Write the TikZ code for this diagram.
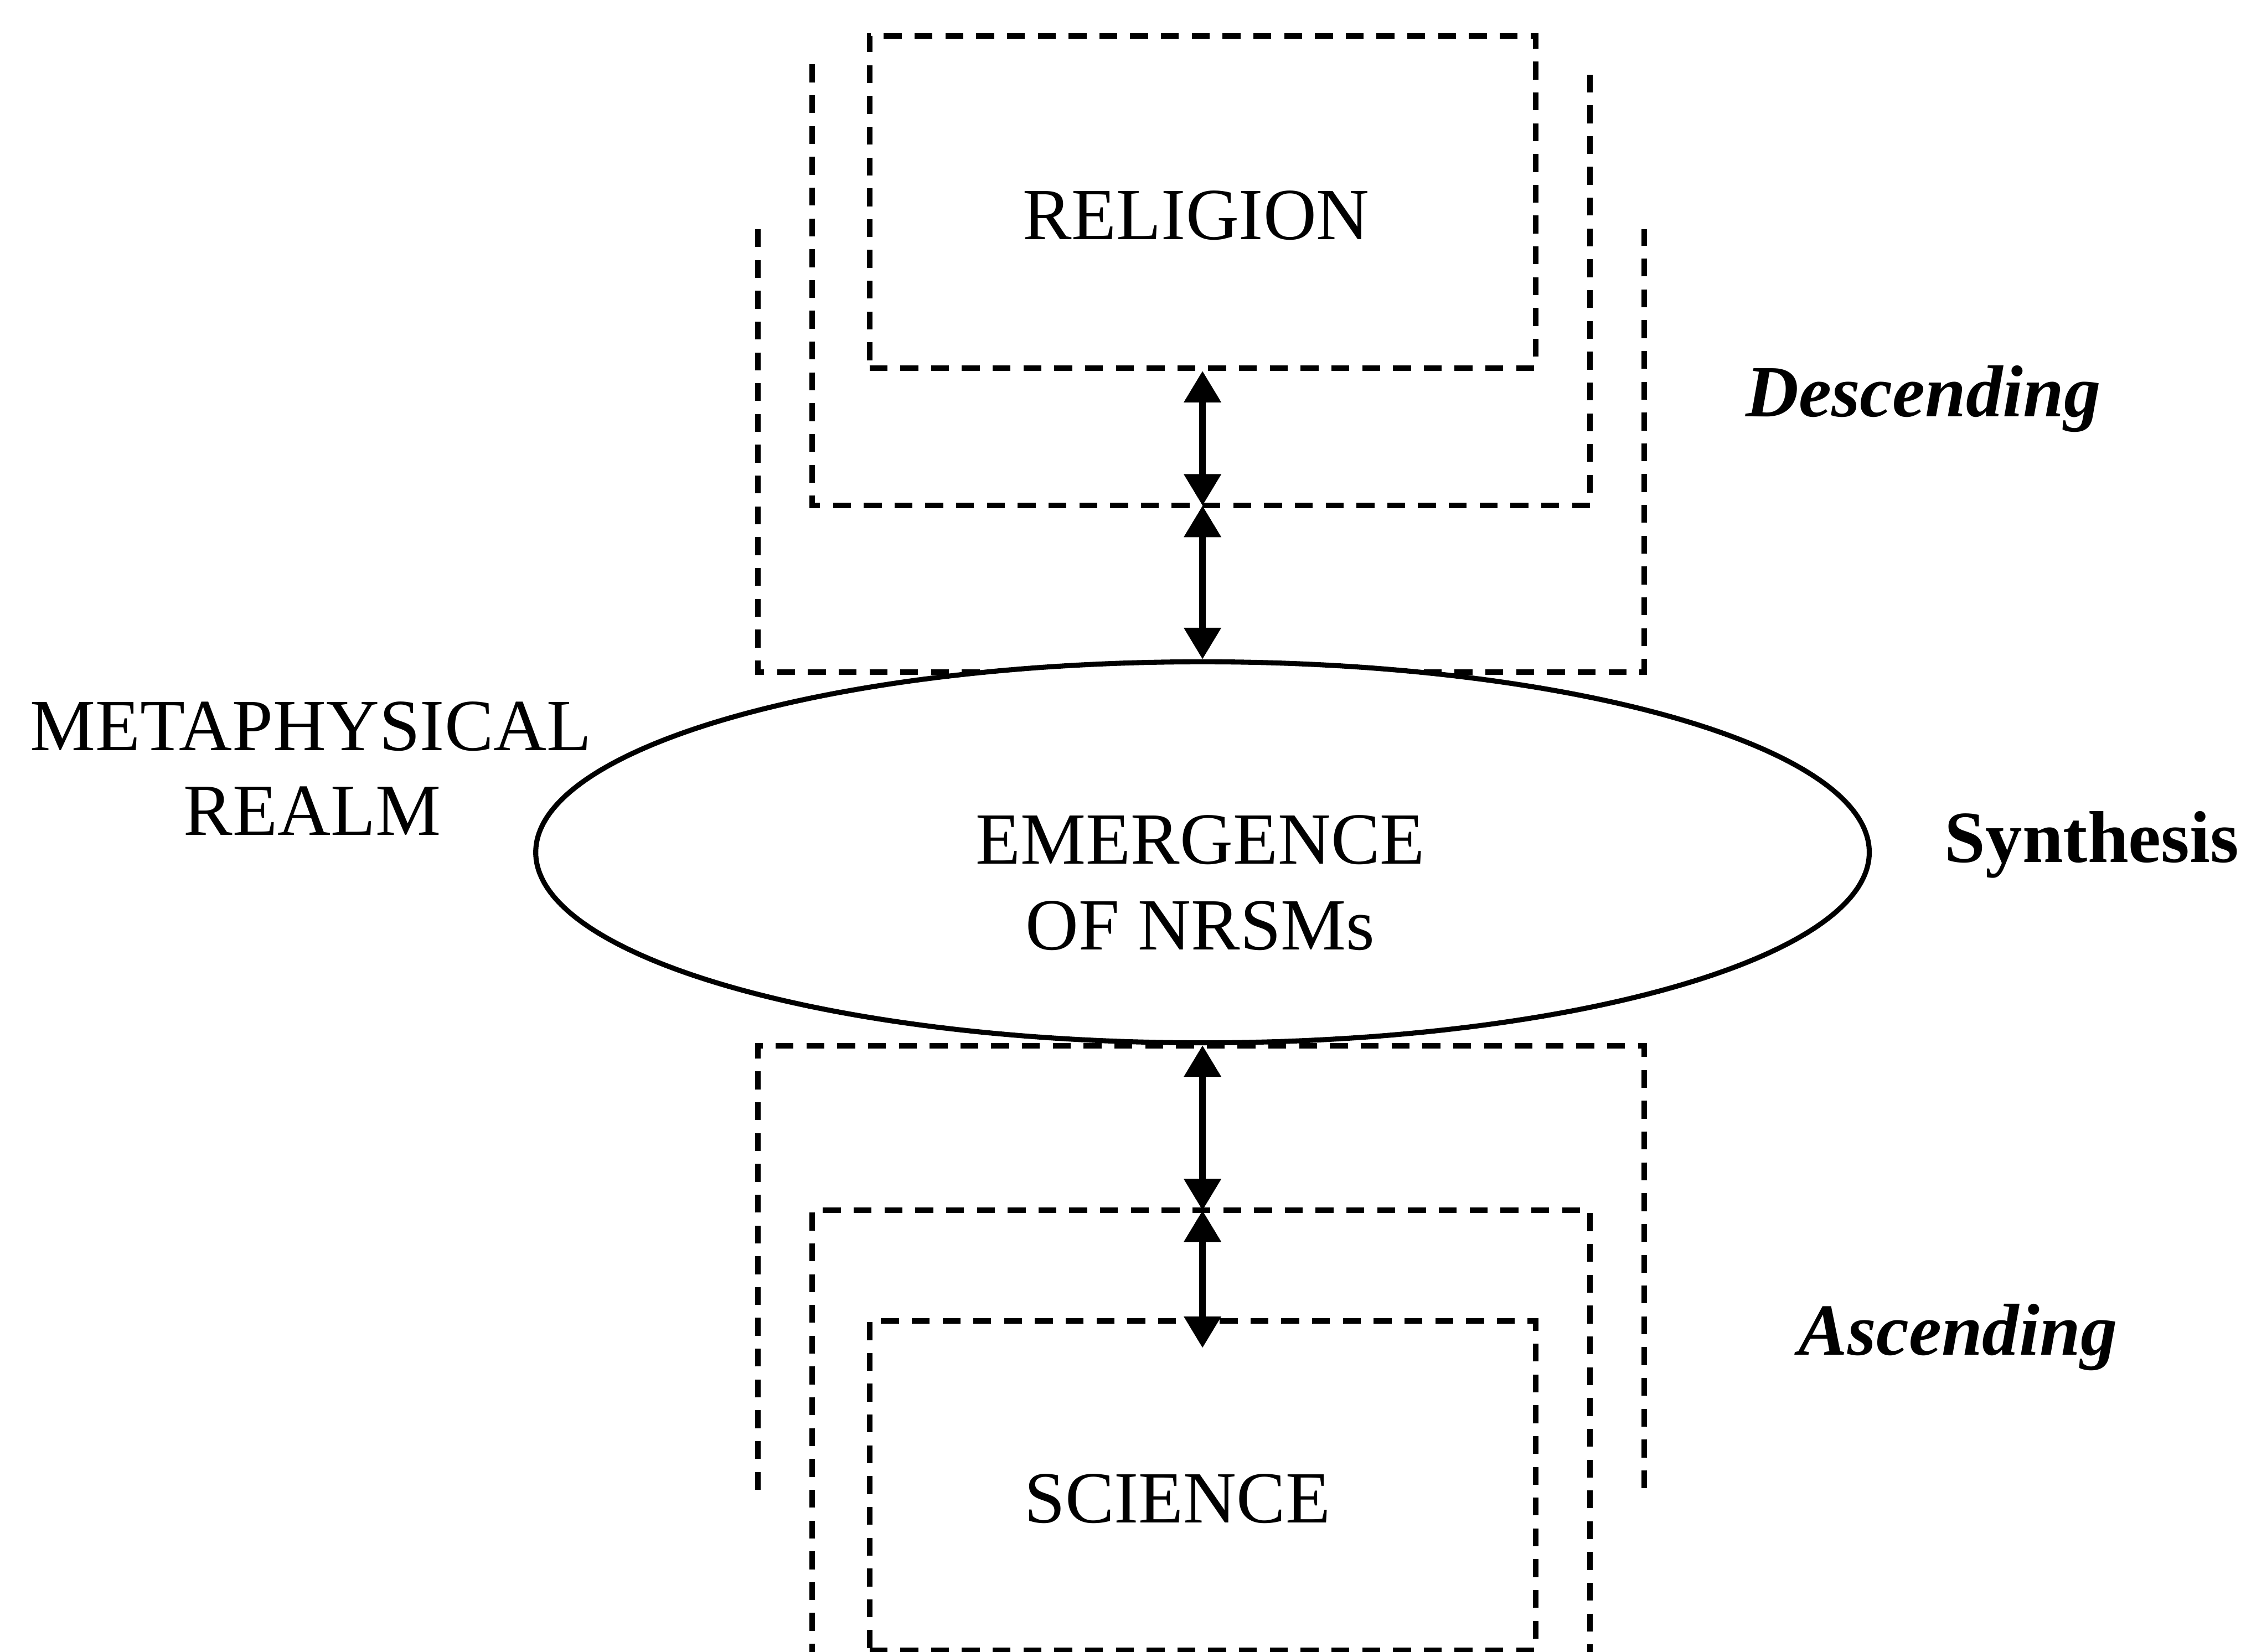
\documentclass[tikz,border=0pt]{standalone}
\usepackage{fontspec}
\setmainfont{Liberation Serif}
\usetikzlibrary{arrows.meta,shapes.geometric}
\begin{document}
\begin{tikzpicture}[x=0.1mm,y=-0.1mm,
  dbox/.style={draw, line width=1.1pt, dash pattern=on 1.25mm off 0.9mm},
  boxnode/.style={dbox, inner sep=0pt, minimum width=46.5mm},
  conn/.style={line width=1.3pt, {Triangle[width=2.5mm,length=2.2mm]}-{Triangle[width=2.5mm,length=2.2mm]}},
  lbl/.style={font=\fontsize{14.6}{17}\selectfont, inner sep=0pt},
  lblbi/.style={font=\fontsize{14.6}{17}\selectfont\bfseries\itshape, inner sep=0pt},
  lblb/.style={font=\fontsize{14.6}{17}\selectfont\bfseries, inner sep=0pt}]
\useasboundingbox (0,0) rectangle (1568,1153);

% boxes
\node[boxnode, minimum height=23.2mm] (rel) at (839.5,141) {};
\node[boxnode, minimum height=23.0mm] (sci) at (839.5,1037) {};
\draw[dbox] (567,45) -- (567,353) -- (1110,353) -- (1110,45);
\draw[dbox] (529,160) -- (529,469) -- (1148,469) -- (1148,160);
\draw[dbox] (529,1040) -- (529,730) -- (1148,730) -- (1148,1040);
\draw[dbox] (567,1160) -- (567,845) -- (1110,845) -- (1110,1160);

% ellipse
\node[ellipse, draw, line width=1pt, fill=white, inner sep=0pt,
      minimum width=93.1mm, minimum height=26.6mm] (em) at (839.5,595) {};

% connector points
\coordinate (m1) at (839.5,353);
\coordinate (m2) at (839.5,845);
\coordinate (tipS) at (839.5,941);

\draw[conn] (rel.south) -- (m1);
\draw[conn] (m1) -- (em.north);
\draw[conn] (em.south) -- (m2);
\draw[conn] (m2) -- (tipS);

% texts
\node[lbl, anchor=base] (tRel) at (835,167) {RELIGION};
\node[lbl, anchor=base] (tSci) at (822,1063) {SCIENCE};
\node[lbl, anchor=base] (tEm1) at (838,603) {EMERGENCE};
\node[lbl, anchor=base] (tEm2) at (838,663) {OF NRSMs};
\node[lbl, anchor=base] (tMet1) at (217,524) {METAPHYSICAL};
\node[lbl, anchor=base] (tMet2) at (218,583) {REALM};
\node[lblbi, anchor=base west] (tDesc) at (1218,291) {Descending};
\node[lblb, anchor=base west] (tSyn) at (1357,602) {Synthesis};
\node[lblbi, anchor=base west] (tAsc) at (1255,946) {Ascending};
\end{tikzpicture}
\end{document}
